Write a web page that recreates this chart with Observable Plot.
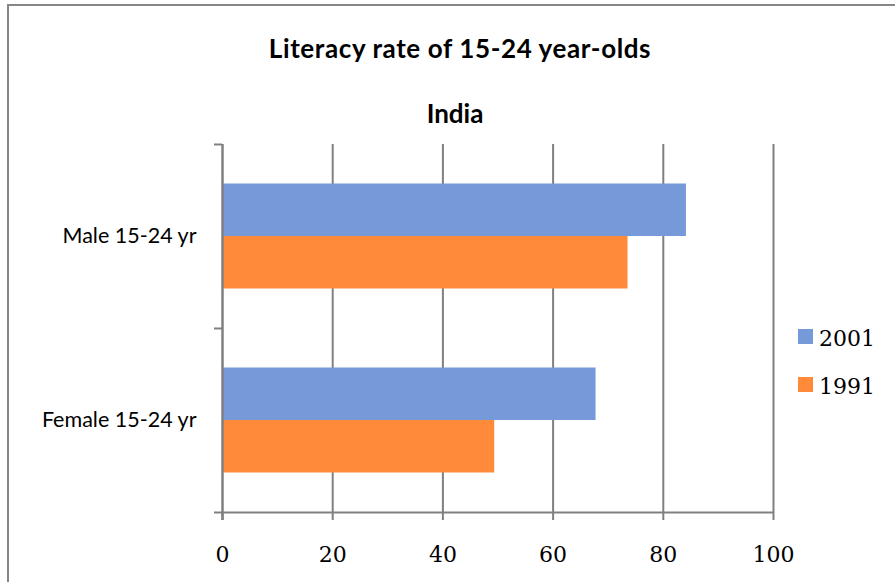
<!DOCTYPE html>
<html><head><meta charset="utf-8">
<script src="https://cdn.jsdelivr.net/npm/d3@7"></script>
<script src="https://cdn.jsdelivr.net/npm/@observablehq/plot@0.6"></script>
<style>
body{margin:0;background:#fff;}
#wrap{position:relative;width:895px;height:582px;overflow:hidden;background:#fff;}
#border{position:absolute;left:7px;top:4px;width:1000px;height:1000px;border:2px solid #878787;box-sizing:border-box;}
.t{position:absolute;text-align:center;font-family:Lato,"Open Sans",sans-serif;font-weight:bold;font-size:26px;line-height:26px;color:#000;white-space:nowrap;}
#chart{position:absolute;left:0;top:0;}
.sw{position:absolute;width:15px;height:15px;}
.lt{position:absolute;font-family:"DejaVu Serif",serif;font-size:22px;line-height:22px;color:#000;}
</style></head>
<body>
<div id="wrap">
  <div id="border"></div>
  <div id="chart"></div>
  <div class="t" id="title" style="left:160px;width:600px;top:35px;letter-spacing:0.6px;"></div>
  <div class="t" id="subtitle" style="left:155px;width:600px;top:100px;"></div>
  <div id="legend"></div>
</div>
<script>
const titleText = "Literacy rate of 15-24 year-olds";
const subtitleText = "India";
const categories = ["Male 15-24 yr", "Female 15-24 yr"];
const years = ["2001", "1991"];
const values2001 = [84.2, 67.8];
const values1991 = [73.6, 49.4];
const xTicks = [0, 20, 40, 60, 80, 100];
const colors = ["#7599d9", "#ff8b3a"];

document.getElementById("title").textContent = titleText;
document.getElementById("subtitle").textContent = subtitleText;

const rows = categories.flatMap((c, i) => [
  {category: c, year: years[0], value: values2001[i]},
  {category: c, year: years[1], value: values1991[i]}
]);

const W = 895, H = 582, mL = 222, mR = 122, mT = 144, mB = 70;
const band = (H - mT - mB) / categories.length;
const barH = 52.5;
const half = band / 2;
const outer = half - barH;
const gray = "#808080";

const chart = Plot.plot({
  width: W, height: H,
  marginLeft: mL, marginRight: mR, marginTop: mT, marginBottom: mB,
  style: {background: "transparent", overflow: "visible"},
  x: {domain: [0, 100], label: null},
  y: {domain: categories, padding: 0, label: null},
  color: {domain: years, range: colors},
  marks: [
    Plot.ruleX(xTicks.slice(1), {stroke: gray, strokeWidth: 2}),
    Plot.barX(rows.filter(d => d.year === years[0]), {x: "value", y: "category", fill: "year", insetTop: outer, insetBottom: half}),
    Plot.barX(rows.filter(d => d.year === years[1]), {x: "value", y: "category", fill: "year", insetTop: half, insetBottom: outer}),
    Plot.ruleX([0], {stroke: gray, strokeWidth: 2.5, insetBottom: -8}),
    Plot.ruleY(categories, {y: d => d, dy: -half, x1: 0, x2: 0, insetLeft: -8, stroke: gray, strokeWidth: 2}),
    Plot.ruleY([categories[categories.length - 1]], {y: d => d, dy: half, x1: 0, x2: 100, insetLeft: -8, stroke: gray, strokeWidth: 2}),
    Plot.axisX({ticks: xTicks, tickSize: 8, tickPadding: 26, stroke: gray, strokeWidth: 2, fontFamily: "DejaVu Serif", fontSize: 22, fill: "#000"}),
    Plot.axisY({tickSize: 0, tickPadding: 26, fontFamily: "Lato", fontSize: 21.5, fill: "#000"})
  ]
});
document.getElementById("chart").appendChild(chart);

const legend = document.getElementById("legend");
const legendTops = [329, 377];
years.forEach((y, i) => {
  const sw = document.createElement("div");
  sw.className = "sw";
  sw.style.left = "798px";
  sw.style.top = legendTops[i] + "px";
  sw.style.background = colors[i];
  legend.appendChild(sw);
  const t = document.createElement("div");
  t.className = "lt";
  t.style.left = "819px";
  t.style.top = (legendTops[i] - 1) + "px";
  t.textContent = y;
  legend.appendChild(t);
});
</script>
</body></html>
